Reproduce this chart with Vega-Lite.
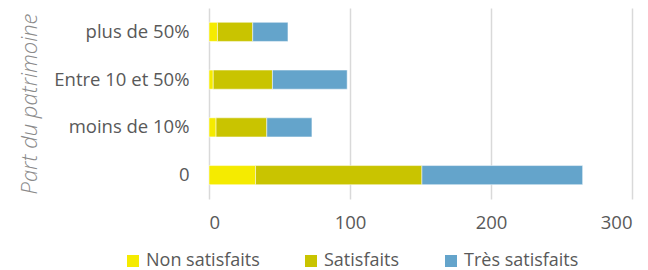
{
  "$schema": "https://vega.github.io/schema/vega-lite/v6.json",
  "autosize": "none",
  "width": 423,
  "height": 191,
  "padding": {"left": 209, "top": 8, "right": 16, "bottom": 71},
  "background": "white",
  "config": {
    "font": "Open Sans",
    "view": {"stroke": null}
  },
  "data": {
    "values": [
      {"part": "plus de 50%", "satisfaction": "Non satisfaits", "n": 6},
      {"part": "plus de 50%", "satisfaction": "Satisfaits", "n": 25},
      {"part": "plus de 50%", "satisfaction": "Très satisfaits", "n": 25},
      {"part": "Entre 10 et 50%", "satisfaction": "Non satisfaits", "n": 3},
      {"part": "Entre 10 et 50%", "satisfaction": "Satisfaits", "n": 42},
      {"part": "Entre 10 et 50%", "satisfaction": "Très satisfaits", "n": 53},
      {"part": "moins de 10%", "satisfaction": "Non satisfaits", "n": 5},
      {"part": "moins de 10%", "satisfaction": "Satisfaits", "n": 36},
      {"part": "moins de 10%", "satisfaction": "Très satisfaits", "n": 32},
      {"part": "0", "satisfaction": "Non satisfaits", "n": 33},
      {"part": "0", "satisfaction": "Satisfaits", "n": 118},
      {"part": "0", "satisfaction": "Très satisfaits", "n": 114}
    ]
  },
  "mark": {"type": "bar", "stroke": "white", "strokeWidth": 0.5},
  "encoding": {
    "y": {
      "field": "part",
      "type": "nominal",
      "sort": ["plus de 50%", "Entre 10 et 50%", "moins de 10%", "0"],
      "scale": {"paddingInner": 0.6, "paddingOuter": 0.3},
      "axis": {
        "title": "Part du patrimoine",
        "titleFont": "Open Sans",
        "titleFontStyle": "italic",
        "titleFontWeight": 300,
        "titleFontSize": 22,
        "titleColor": "#8a8a8a",
        "titlePadding": 12,
        "labelFontSize": 18.5,
        "labelColor": "#595959",
        "labelPadding": 20,
        "ticks": false,
        "domain": false,
        "grid": false
      }
    },
    "x": {
      "field": "n",
      "type": "quantitative",
      "stack": "zero",
      "scale": {"domain": [0, 300], "nice": false},
      "axis": {
        "title": null,
        "values": [0, 100, 200, 300],
        "labelFontSize": 18.5,
        "labelColor": "#595959",
        "labelPadding": 14,
        "ticks": false,
        "domain": false,
        "grid": true,
        "gridColor": "#d9d9d9",
        "gridWidth": 1.5
      }
    },
    "color": {
      "field": "satisfaction",
      "type": "nominal",
      "scale": {
        "domain": ["Non satisfaits", "Satisfaits", "Très satisfaits"],
        "range": ["#F5EB00", "#C9C400", "#64A4CB"]
      },
      "legend": {
        "title": null,
        "orient": "none",
        "direction": "horizontal",
        "legendX": -85,
        "legendY": 244,
        "symbolType": "square",
        "symbolSize": 144,
        "symbolStrokeWidth": 0,
        "labelFontSize": 18,
        "labelColor": "#595959",
        "labelOffset": 4,
        "columnPadding": 42
      }
    },
    "order": {"field": "satisfaction", "sort": "ascending"}
  }
}
